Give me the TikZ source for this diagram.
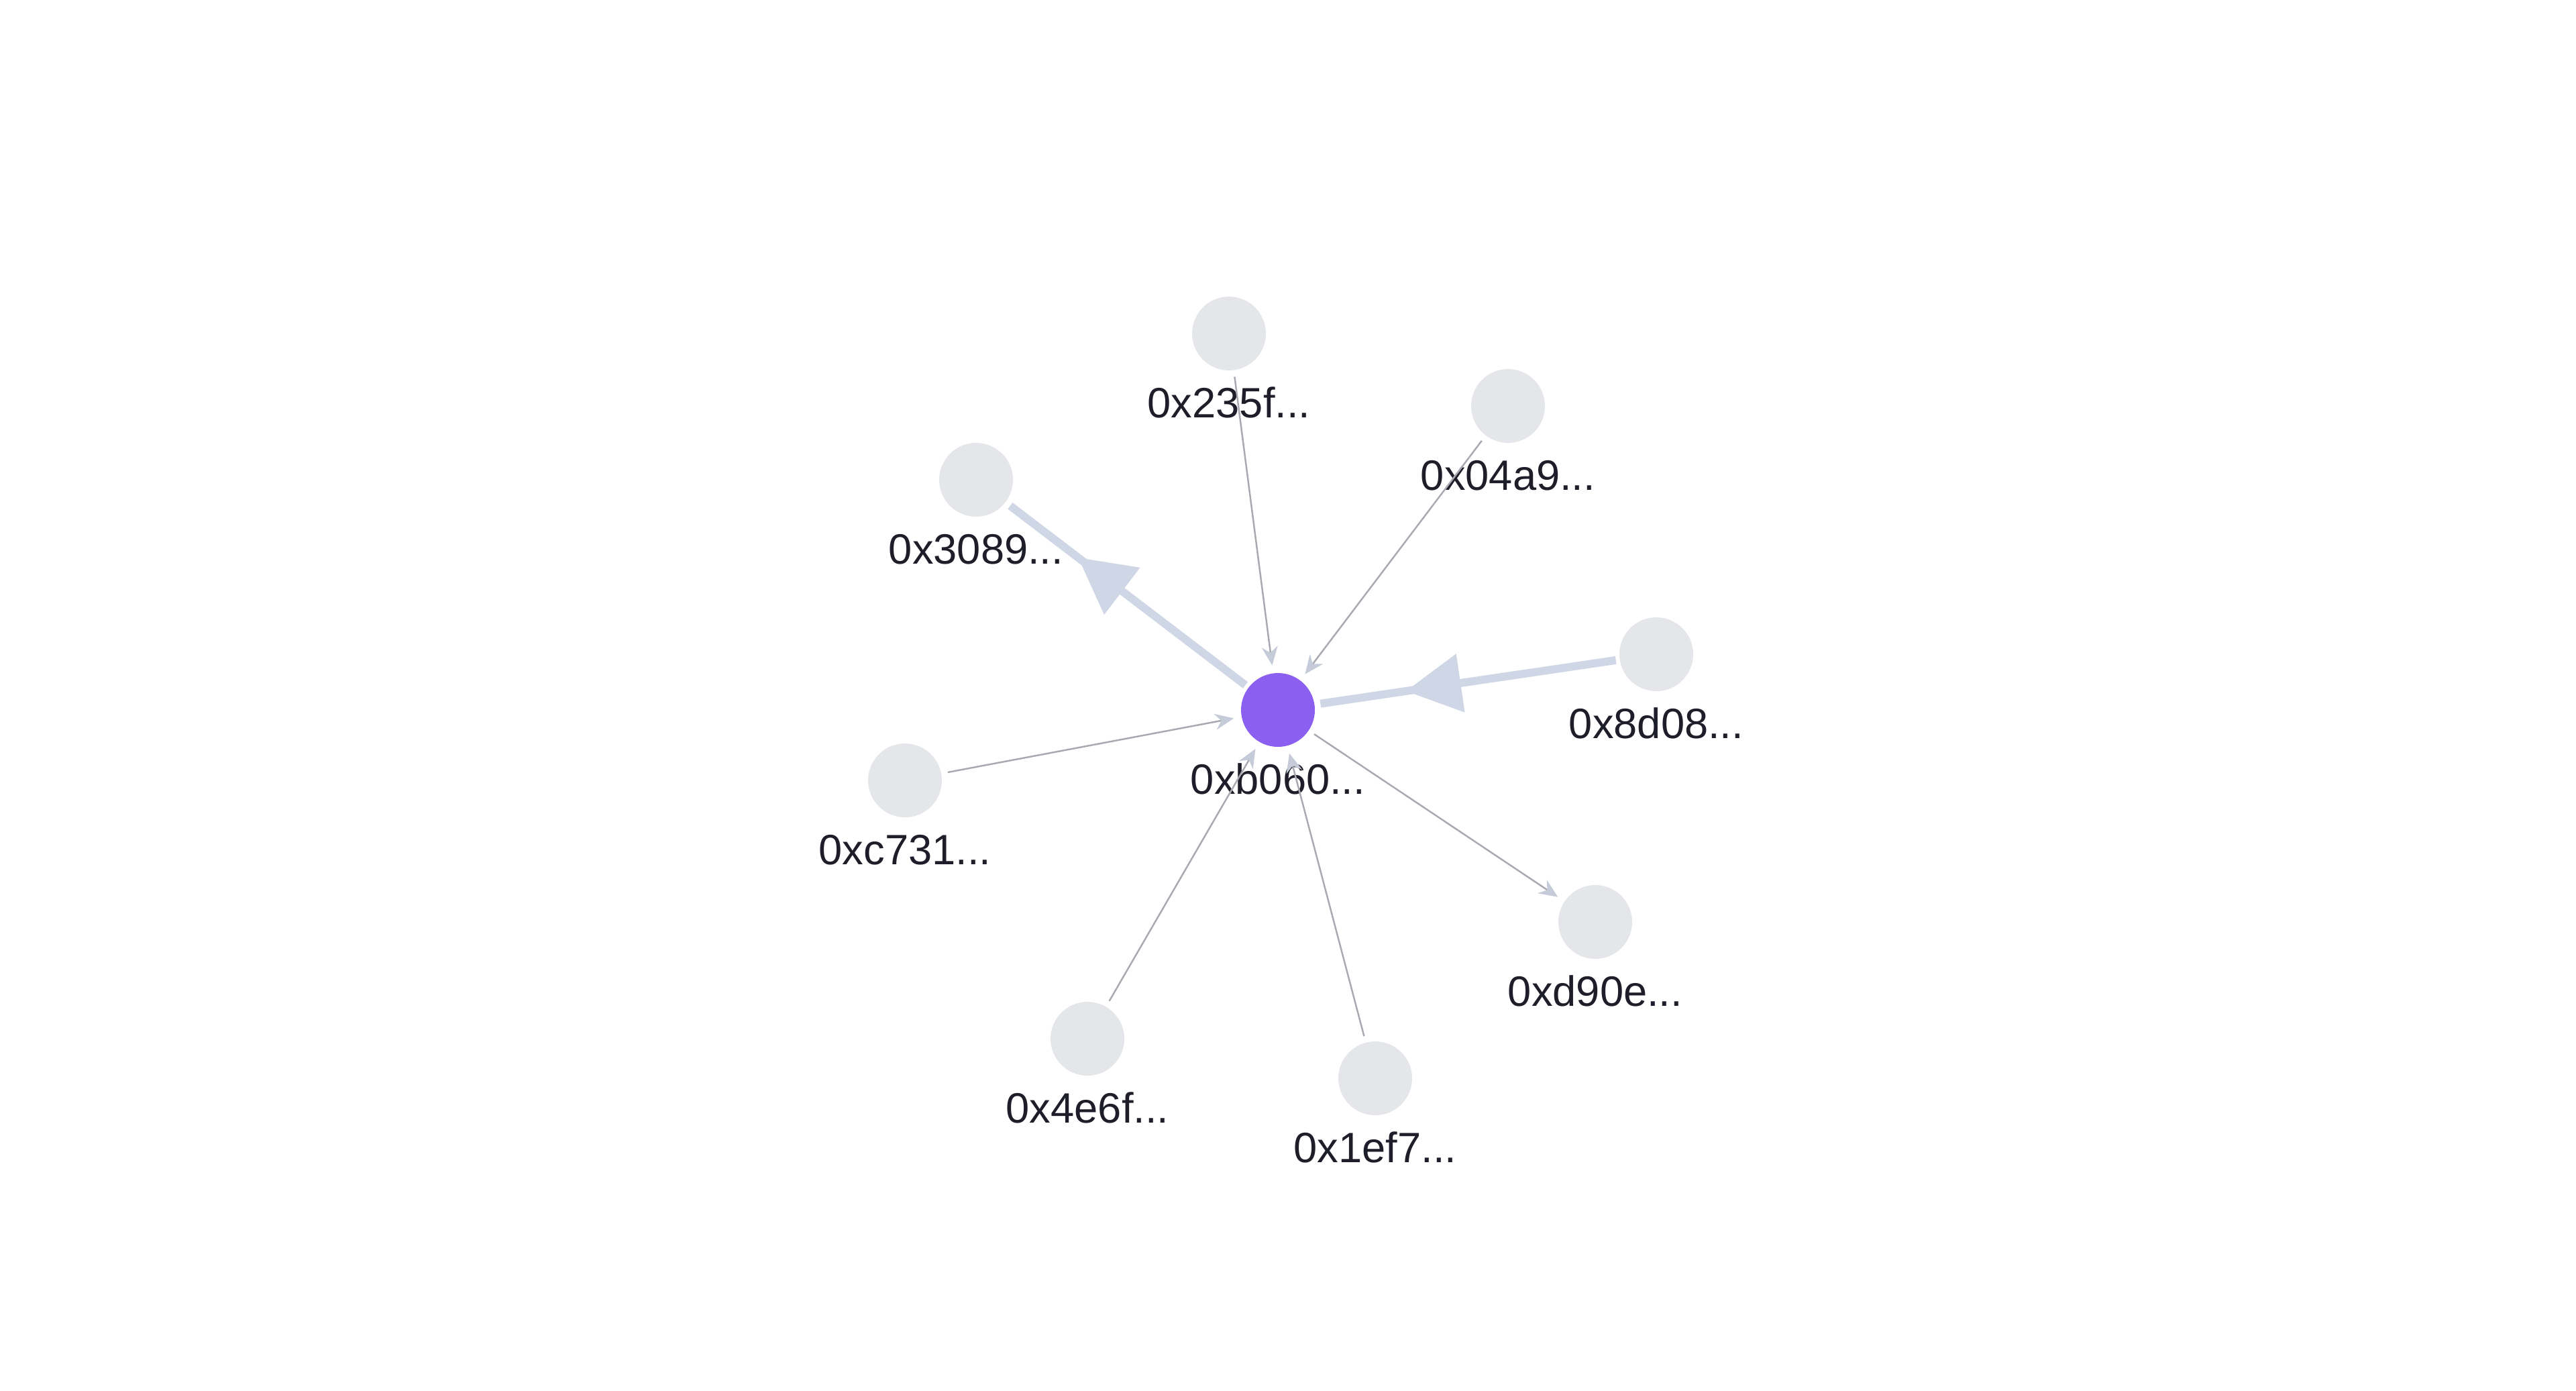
\documentclass[tikz,border=0pt]{standalone}
\usepackage{fontspec}
\setmainfont{Liberation Sans}
\usetikzlibrary{arrows.meta,decorations.markings}
\definecolor{nodegray}{HTML}{E5E6EA}
\definecolor{hub}{HTML}{8B5FF0}
\definecolor{thinedge}{HTML}{A9A9B2}
\definecolor{thinhead}{HTML}{C6CBD9}
\definecolor{thickedge}{HTML}{CFD6E5}
\definecolor{labeltext}{HTML}{1E1E2A}
\begin{document}
\begin{tikzpicture}[x=1cm,y=1cm,
 peer/.style={circle, fill=nodegray, minimum size=1.1cm, inner sep=0pt, outer sep=0pt},
 hubnode/.style={circle, fill=hub, minimum size=1.1cm, inner sep=0pt, outer sep=0pt},
 addr/.style={anchor=base, text=labeltext, font=\fontsize{18}{20}\selectfont, inner sep=0pt},
 thinflow/.style={draw=thinedge, line width=0.7pt, shorten <=0.1cm, shorten >=0.12cm,
   -{Stealth[length=0.28cm,width=0.24cm,inset=0.09cm,color=thinhead]}},
 bigflow/.style={draw=thickedge, line width=3.4pt, shorten <=0.06cm, shorten >=0.09cm,
   postaction={decorate}, decoration={markings, mark=at position 0.70 with
   {\arrow{Triangle[length=0.82cm,width=0.88cm,color=thickedge,line width=0.5pt]}}}},
]
\useasboundingbox (0,0) rectangle (38.4,-20.72);
% nodes
\node[hubnode] (b060) at (19.05,-10.58) {};
\node[peer] (p235f) at (18.32,-4.97) {};
\node[peer] (p04a9) at (22.48,-6.05) {};
\node[peer] (p3089) at (14.55,-7.15) {};
\node[peer] (p8d08) at (24.69,-9.75) {};
\node[peer] (pc731) at (13.49,-11.63) {};
\node[peer] (pd90e) at (23.78,-13.74) {};
\node[peer] (p4e6f) at (16.21,-15.48) {};
\node[peer] (p1ef7) at (20.50,-16.07) {};
% labels
\node[addr] (lb060) at ([yshift=-1.25cm]b060.center) {0xb060...};
\node[addr] (l235f) at ([yshift=-1.25cm]p235f.center) {0x235f...};
\node[addr] (l04a9) at ([yshift=-1.25cm]p04a9.center) {0x04a9...};
\node[addr] (l3089) at ([yshift=-1.25cm]p3089.center) {0x3089...};
\node[addr] (l8d08) at ([yshift=-1.25cm]p8d08.center) {0x8d08...};
\node[addr] (lc731) at ([yshift=-1.25cm]pc731.center) {0xc731...};
\node[addr] (ld90e) at ([yshift=-1.25cm]pd90e.center) {0xd90e...};
\node[addr] (l4e6f) at ([yshift=-1.25cm]p4e6f.center) {0x4e6f...};
\node[addr] (l1ef7) at ([yshift=-1.25cm]p1ef7.center) {0x1ef7...};
% edges
\draw[thinflow] (p235f) -- (b060);
\draw[thinflow] (p04a9) -- (b060);
\draw[thinflow] (pc731) -- (b060);
\draw[thinflow] (p4e6f) -- (b060);
\draw[thinflow] (p1ef7) -- (b060);
\draw[thinflow] (b060) -- (pd90e);
\draw[bigflow] (b060) -- (p3089);
\draw[bigflow] (p8d08) -- (b060);
\end{tikzpicture}
\end{document}
